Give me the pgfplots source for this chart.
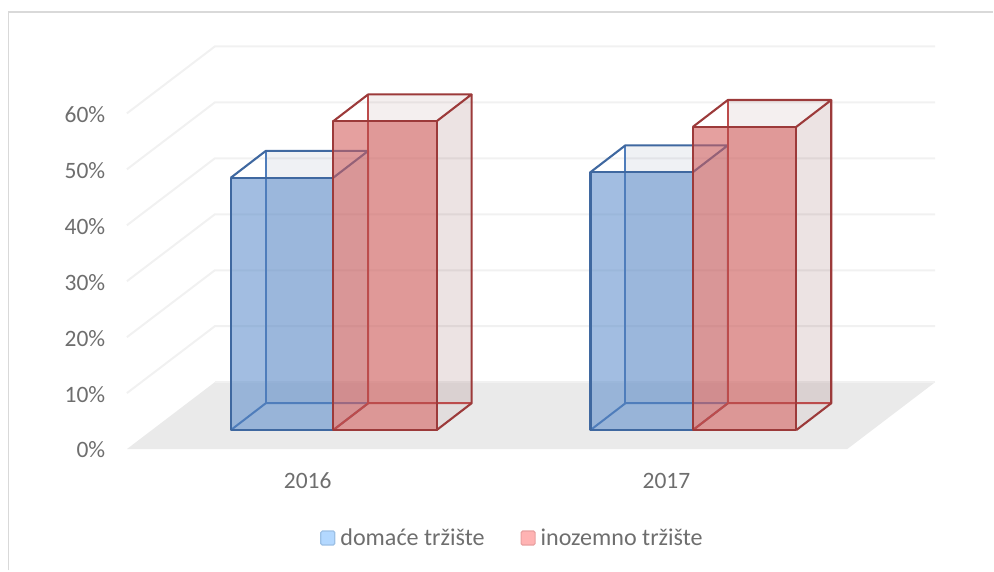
\documentclass[border=0pt]{standalone}
\usepackage{pgfplots}
\usepackage{fontspec}
\setmainfont{Carlito}
\pgfplotsset{compat=1.18}
\definecolor{lab}{HTML}{6E6E6E}
\definecolor{grid}{HTML}{F1F1F1}
\definecolor{floorc}{HTML}{EAEAEA}
\definecolor{frame}{HTML}{D9D9D9}
\definecolor{bfill}{HTML}{5E8ECB}
\definecolor{bdark}{HTML}{3F68A0}
\definecolor{bmid}{HTML}{4F7DBB}
\definecolor{bface}{HTML}{4F5F88}
\definecolor{rfill}{HTML}{D25C5A}
\definecolor{rdark}{HTML}{9C3A3A}
\definecolor{rmid}{HTML}{BC4C4C}
\definecolor{rface}{HTML}{885050}
% #1 left px, #2 right px, #3 value in %, #4 fill, #5 dark, #6 mid, #7 face
\newcommand\prism[7]{%
  \pgfmathsetmacro\xa{#1}\pgfmathsetmacro\xb{#2}%
  \pgfmathsetmacro\xc{#1+35}\pgfmathsetmacro\xd{#2+35}%
  \pgfmathsetmacro\fb{3.393}\pgfmathsetmacro\ft{#3+3.393}%
  \pgfmathsetmacro\bb{3.393+4.8}\pgfmathsetmacro\bt{#3+3.393+4.8}%
  % faces
  \addplot[draw=none,fill=#7,fill opacity=.09,forget plot] coordinates {(\xc,\bb)(\xd,\bb)(\xd,\bt)(\xc,\bt)} -- cycle;
  \addplot[draw=none,fill=#7,fill opacity=.08,forget plot] coordinates {(\xb,\fb)(\xd,\bb)(\xd,\bt)(\xb,\ft)} -- cycle;
  \addplot[draw=none,fill=#4,fill opacity=.58,forget plot] coordinates {(\xa,\fb)(\xb,\fb)(\xb,\ft)(\xa,\ft)} -- cycle;
  % hidden edges
  \addplot[draw=#6,line width=2pt,forget plot] coordinates {(\xa,\fb)(\xc,\bb)(\xd,\bb)};
  \addplot[draw=#6,line width=2pt,forget plot] coordinates {(\xc,\bb)(\xc,\bt)};
  % visible edges
  \addplot[draw=#5,line width=2.1pt,line join=round,forget plot] coordinates {(\xa,\fb)(\xb,\fb)(\xb,\ft)(\xa,\ft)} -- cycle;
  \addplot[draw=#5,line width=2.1pt,line join=round,forget plot] coordinates {(\xa,\ft)(\xc,\bt)(\xd,\bt)(\xb,\ft)};
  \addplot[draw=#5,line width=2.1pt,line join=round,forget plot] coordinates {(\xd,\bt)(\xd,\bb)(\xb,\fb)};
}
\begin{document}
\begin{tikzpicture}
\begin{axis}[
  scale only axis, width=994pt, height=571pt,
  xmin=0, xmax=994, ymin=-21.70, ymax=80.27,
  clip=false, axis line style={draw=none},
  major tick length=0pt, tick style={draw=none},
  xtick={308,667}, xticklabels={2016,2017},
  ytick={0,10,20,30,40,50,60},
  yticklabel={\pgfmathprintnumber{\tick}\%},
  /pgf/number format/assume math mode=true,
  ticklabel style={font=\fontsize{23.5}{28}\selectfont, text=lab},
  yticklabel style={anchor=east, inner sep=0pt, xshift=105.5pt, yshift=-1pt},
  xticklabel style={anchor=center, inner sep=0pt, yshift=90pt},
  no markers,
  legend style={at={(axis cs:320.5,-15.9)}, anchor=west, draw=none, fill=none,
    inner sep=0pt, outer sep=0pt, legend columns=2,
    font=\fontsize{24.1}{28}\selectfont, text=lab,
    nodes={inner sep=0pt},
    /tikz/every odd column/.append style={column sep=5pt},
    /tikz/every even column/.append style={column sep=36pt}},
  legend cell align=left,
]
% chart frame
\addplot[draw=frame,line width=1.8pt,forget plot] coordinates {(8.5,-21.70)(8.5,78.19)(994,78.19)};
% floor
\addplot[draw=none,fill=floorc,forget plot] coordinates {(127,0)(215,11.96)(936,11.96)(848,0)} -- cycle;
% gridlines
\addplot[draw=grid,line width=2pt,forget plot] coordinates {(215,11.96)(936,11.96)};
\addplot[draw=grid,line width=2pt,forget plot] coordinates {(127,10)(215,21.96)(936,21.96)};
\addplot[draw=grid,line width=2pt,forget plot] coordinates {(127,20)(215,31.96)(936,31.96)};
\addplot[draw=grid,line width=2pt,forget plot] coordinates {(127,30)(215,41.96)(936,41.96)};
\addplot[draw=grid,line width=2pt,forget plot] coordinates {(127,40)(215,51.96)(936,51.96)};
\addplot[draw=grid,line width=2pt,forget plot] coordinates {(127,50)(215,61.96)(936,61.96)};
\addplot[draw=grid,line width=2pt,forget plot] coordinates {(127,60)(215,71.96)(936,71.96)};
% bars
\prism{231}{333.5}{45.1}{bfill}{bdark}{bmid}{bface}
\prism{333.5}{437}{55.2}{rfill}{rdark}{rmid}{rface}
\prism{591}{693.5}{46.1}{bfill}{bdark}{bmid}{bface}
\prism{693.5}{797}{54.2}{rfill}{rdark}{rmid}{rface}
% legend
\addlegendimage{legend image code/.code={\draw[draw={rgb,255:red,156;green,192;blue,229},fill={rgb,255:red,179;green,216;blue,255},rounded corners=1.5pt,line width=1.2pt] (0pt,-7pt) rectangle (14pt,7pt);}}
\addlegendentry{domaće tržište}
\addlegendimage{legend image code/.code={\draw[draw={rgb,255:red,232;green,160;blue,160},fill={rgb,255:red,255;green,179;blue,179},rounded corners=1.5pt,line width=1.2pt] (0pt,-7pt) rectangle (14pt,7pt);}}
\addlegendentry{inozemno tržište}
\end{axis}
\end{tikzpicture}
\end{document}
